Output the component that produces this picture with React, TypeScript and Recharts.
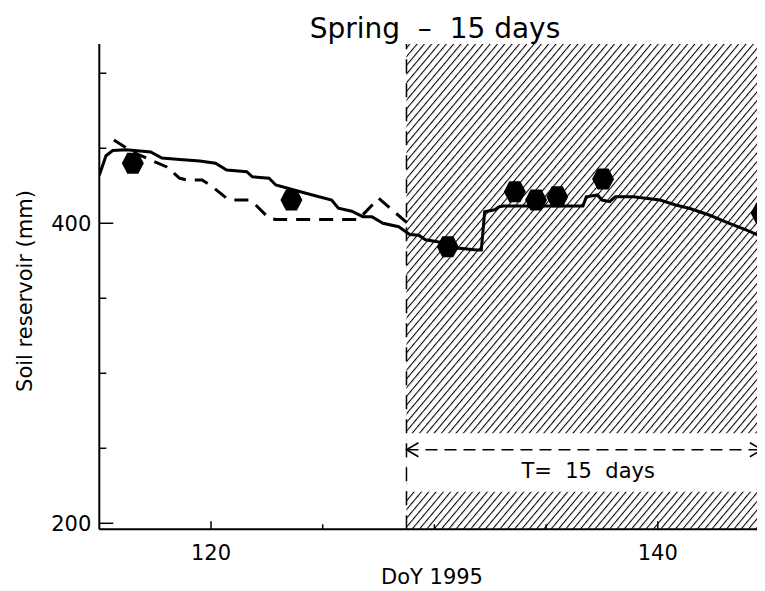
import React from "react";
import {
  ComposedChart,
  Line,
  Scatter,
  XAxis,
  YAxis,
  ReferenceArea,
  ReferenceLine,
} from "recharts";

// model run (solid)
const solidDays = [
  115, 115.3, 115.6, 116.2, 117.3, 117.8, 118.6, 119.5, 120.2, 120.7, 121.6, 121.85,
  122.6, 122.9, 124.0, 124.5, 125.4, 125.7, 126.3, 126.8, 127.2, 127.7, 128.4, 128.9,
  129.3, 129.6, 130.2, 131.0, 131.9, 132.1, 132.25, 132.7, 132.9, 133.1, 136.65,
  136.8, 137.3, 137.5, 137.85, 138.1, 138.9, 140.1, 140.8, 141.4, 142.3, 143.2,
  143.98, 144.8, 145,
];
const solidSoil = [
  432, 445, 448.5, 449, 447.5, 443.5, 442.5, 441.5, 440, 435.5, 434.4, 431,
  430, 425.5, 421, 419, 415.5, 410, 408, 404.4, 404.4, 400, 397.7, 392.5,
  392, 389, 387.5, 383.5, 382.2, 382.2, 407.7, 409, 411, 411.5, 411.5,
  417.7, 418.9, 415.5, 414.4, 417.7, 417.7, 415.5, 412.2, 410, 405.5, 400,
  395.5, 390, 389,
];

// second run (dashed), stops at the window start
const dashedDays = [
  115.65, 116.6, 118.0, 118.6, 118.9, 119.6, 120.06, 120.7, 120.96, 121.7, 122.0,
  122.6, 122.9, 126.6, 127.5, 128.8,
];
const dashedSoil = [
  455.5, 446.7, 437.7, 430, 428.9, 428.9, 424.4, 416.7, 415.5, 415.5, 412.2,
  403.3, 402.5, 402.5, 416.7, 400,
];

// observations
const obsDays = [116.5, 123.6, 130.6, 133.6, 134.55, 135.5, 137.55, 144.65];
const obsSoil = [440, 415.5, 384.4, 421, 415.5, 417.7, 429.5, 406.7];

const xTicks = [120, 125, 130, 135, 140];
const xLabelled = [120, 140];
const yTicks = [200, 250, 300, 350, 400, 450, 500];
const yLabelled = [200, 400];

const X_DOMAIN = [115, 145];
const Y_DOMAIN = [196, 519.5];
const windowStart = 128.75;
const windowEnd = 145;
const gapLow = 221;
const gapHigh = 260;
const arrowFrom = 128.75;
const arrowTo = 144.66;
const arrowLevel = 249;

const solidData = solidDays.map((d, i) => ({ day: d, soil: solidSoil[i] }));
const dashedData = dashedDays.map((d, i) => ({ day: d, soil: dashedSoil[i] }));
const obsData = obsDays.map((d, i) => ({ day: d, soil: obsSoil[i] }));

const FONT = '"DejaVu Sans", sans-serif';

const BottomTick = (p: any) => {
  const { x, y, payload } = p;
  const major = xLabelled.includes(payload.value);
  return (
    <g>
      <line x1={x} y1={y} x2={x} y2={y - (major ? 8 : 5)} stroke="#000" strokeWidth={1.5} />
      {major && (
        <text x={x} y={y + 31} textAnchor="middle" fontSize={21} fontFamily={FONT} fill="#000">
          {payload.value}
        </text>
      )}
    </g>
  );
};

const TopTick = (p: any) => {
  const { x, y, payload } = p;
  const major = xLabelled.includes(payload.value);
  return <line x1={x} y1={y} x2={x} y2={y + (major ? 8 : 5)} stroke="#000" strokeWidth={1.5} />;
};

const LeftTick = (p: any) => {
  const { x, y, payload } = p;
  const major = yLabelled.includes(payload.value);
  return (
    <g>
      <line x1={x} y1={y} x2={x + (major ? 14 : 7)} y2={y} stroke="#000" strokeWidth={1.5} />
      {major && (
        <text x={x - 8} y={y + 7.5} textAnchor="end" fontSize={21} fontFamily={FONT} fill="#000">
          {payload.value}
        </text>
      )}
    </g>
  );
};

const Hexagon = (p: any) => {
  const { cx, cy } = p;
  const r = 11;
  const h = 10.5;
  const pts = [
    [cx - r, cy],
    [cx - r / 2, cy - h],
    [cx + r / 2, cy - h],
    [cx + r, cy],
    [cx + r / 2, cy + h],
    [cx - r / 2, cy + h],
  ]
    .map((q) => q.join(","))
    .join(" ");
  return <polygon points={pts} fill="#000" />;
};

const SpanArrow = (p: any) => {
  const { x1, y1, x2, y2 } = p;
  return (
    <g>
      <line x1={x1} y1={y1} x2={x2} y2={y2} stroke="#000" strokeWidth={1.6} strokeDasharray="12 7" />
      <polyline points={`${x1 + 12},${y1 - 7} ${x1},${y1} ${x1 + 12},${y1 + 7}`} fill="none" stroke="#000" strokeWidth={1.6} />
      <polyline points={`${x2 - 12},${y2 - 7} ${x2},${y2} ${x2 - 12},${y2 + 7}`} fill="none" stroke="#000" strokeWidth={1.6} />
      <text
        x={(x1 + x2) / 2 + 4}
        y={y1 + 28}
        textAnchor="middle"
        fontSize={21}
        fontFamily={FONT}
        fill="#000"
        xmlSpace="preserve"
        style={{ whiteSpace: "pre" }}
      >
        T=  15  days
      </text>
    </g>
  );
};

export default function App() {
  return (
    <div style={{ width: 757, height: 583, overflow: "hidden", background: "#fff" }}>
      <ComposedChart
        width={800}
        height={583}
        margin={{ top: 36, right: 38.5, bottom: 21.7, left: 31.3 }}
      >
        <defs>
          <pattern id="hatch" patternUnits="userSpaceOnUse" width={5.6} height={10} patternTransform="rotate(40)">
            <line x1={0} y1={-1} x2={0} y2={11} stroke="#000" strokeWidth={2.1} />
          </pattern>
        </defs>

        <ReferenceArea
          x1={windowStart}
          x2={windowEnd}
          y1={Y_DOMAIN[0]}
          y2={Y_DOMAIN[1]}
          fill="url(#hatch)"
          fillOpacity={1}
          stroke="none"
          ifOverflow="hidden"
        />
        <ReferenceArea
          x1={windowStart}
          x2={windowEnd}
          y1={gapLow}
          y2={gapHigh}
          fill="#fff"
          fillOpacity={1}
          stroke="none"
          ifOverflow="hidden"
        />
        <ReferenceLine x={windowStart} stroke="#000" strokeWidth={1.5} strokeDasharray="14 10" />
        <ReferenceLine
          segment={[
            { x: arrowFrom, y: arrowLevel },
            { x: arrowTo, y: arrowLevel },
          ]}
          shape={SpanArrow}
        />

        <XAxis
          dataKey="day"
          type="number"
          domain={X_DOMAIN}
          allowDataOverflow
          ticks={xTicks}
          height={40}
          tickSize={0}
          tickMargin={0}
          tick={BottomTick}
          axisLine={{ stroke: "#000", strokeWidth: 2 }}
        />
        <XAxis
          xAxisId="top"
          orientation="top"
          type="number"
          domain={X_DOMAIN}
          allowDataOverflow
          ticks={xTicks}
          height={0}
          tickSize={0}
          tickMargin={0}
          tick={TopTick}
          axisLine={{ stroke: "#000", strokeWidth: 2 }}
        />
        <YAxis
          dataKey="soil"
          type="number"
          domain={Y_DOMAIN}
          allowDataOverflow
          ticks={yTicks}
          width={60}
          tickSize={0}
          tickMargin={0}
          tick={LeftTick}
          axisLine={{ stroke: "#000", strokeWidth: 2 }}
        />

        <Line
          data={dashedData}
          dataKey="soil"
          type="linear"
          stroke="#000"
          strokeWidth={3}
          strokeDasharray="14 9"
          dot={false}
          isAnimationActive={false}
        />
        <Line
          data={solidData}
          dataKey="soil"
          type="linear"
          stroke="#000"
          strokeWidth={3}
          dot={false}
          isAnimationActive={false}
        />
        <Scatter data={obsData} dataKey="soil" shape={Hexagon} isAnimationActive={false} />

        <text
          x={427}
          y={30}
          textAnchor="middle"
          fontSize={28}
          fontFamily={FONT}
          fill="#000"
          xmlSpace="preserve"
          style={{ whiteSpace: "pre" }}
        >
          Spring  –  15 days
        </text>
        <text x={424} y={576} textAnchor="middle" fontSize={21} fontFamily={FONT} fill="#000">
          DoY 1995
        </text>
        <text
          x={24}
          y={283}
          textAnchor="middle"
          fontSize={21}
          fontFamily={FONT}
          fill="#000"
          transform="rotate(-90, 24, 283)"
        >
          Soil reservoir (mm)
        </text>
      </ComposedChart>
    </div>
  );
}
